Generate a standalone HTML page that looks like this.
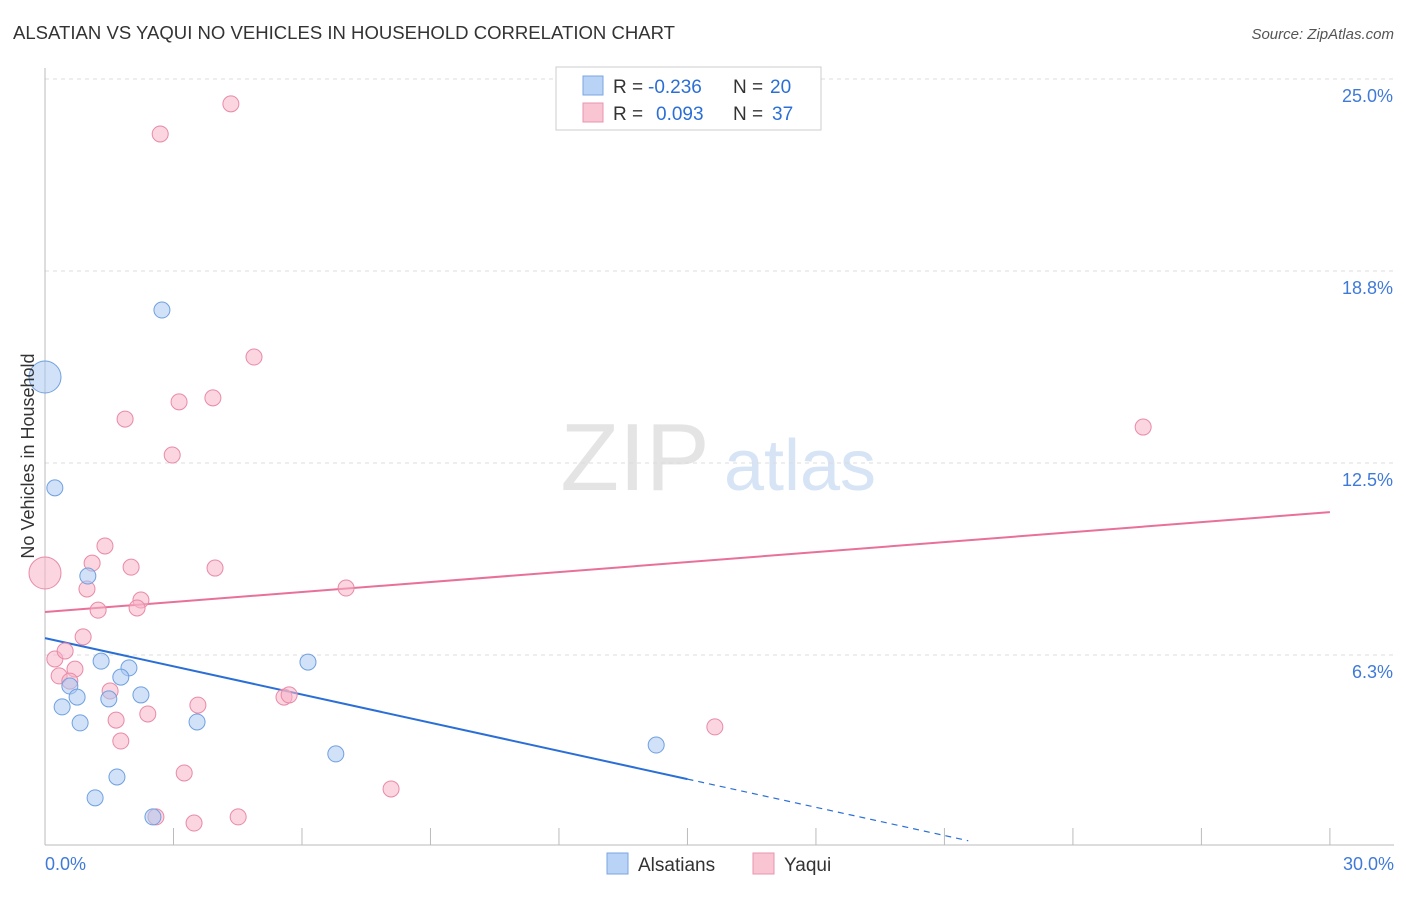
<!DOCTYPE html>
<html><head><meta charset="utf-8"><style>
body{margin:0;background:#fff;font-family:"Liberation Sans",sans-serif}
text{font-family:"Liberation Sans",sans-serif}
</style></head><body>
<svg id="chart" width="1406" height="892" xmlns="http://www.w3.org/2000/svg">
<text x="13" y="39" font-size="18" fill="#333" textLength="662" lengthAdjust="spacingAndGlyphs">ALSATIAN VS YAQUI NO VEHICLES IN HOUSEHOLD CORRELATION CHART</text>
<text x="1394" y="39" font-size="15" fill="#555" text-anchor="end" font-style="italic">Source: ZipAtlas.com</text>
<g><text x="635" y="490" font-size="96" fill="#e4e4e4" text-anchor="middle" font-family="Liberation Serif">ZIP</text><text x="800" y="490" font-size="72" fill="#d6e4f5" text-anchor="middle">atlas</text></g>
<g id="grid"></g><g id="axes"></g><g id="lines"></g><g id="pts"></g>
<text transform="translate(34,456) rotate(-90)" font-size="18" fill="#333" text-anchor="middle">No Vehicles in Household</text>
<g>
<rect x="556" y="67" width="265" height="63" fill="#fff" stroke="#ccc"/>
<rect x="583" y="76" width="20" height="19" fill="#b8d3f5" stroke="#7aa6e0"/>
<rect x="583" y="103" width="20" height="19" fill="#f9c5d3" stroke="#e895b0"/>
<text x="613" y="93" font-size="19" fill="#333">R =</text>
<text x="648" y="93" font-size="19" fill="#2b6fd6">-0.236</text>
<text x="733" y="93" font-size="19" fill="#333">N =</text>
<text x="770" y="93" font-size="19" fill="#2b6fd6">20</text>
<text x="613" y="120" font-size="19" fill="#333">R =</text>
<text x="656" y="120" font-size="19" fill="#2b6fd6">0.093</text>
<text x="733" y="120" font-size="19" fill="#333">N =</text>
<text x="772" y="120" font-size="19" fill="#2b6fd6">37</text>
</g>
<g>
<rect x="607" y="853" width="21" height="21" fill="#b8d3f5" stroke="#7aa6e0"/>
<text x="638" y="871" font-size="19" fill="#333">Alsatians</text>
<rect x="753" y="853" width="21" height="21" fill="#f9c5d3" stroke="#e895b0"/>
<text x="784" y="871" font-size="19" fill="#333">Yaqui</text>
</g>
</svg>
<script>
const alsX=[0,0.23,1.00,1.31,1.96,1.77,0.58,0.75,0.40,1.49,2.24,0.82,3.55,6.14,6.79,14.27,1.68,1.17,2.52,2.73];
const alsY=[15.30,11.69,8.82,6.05,5.83,5.53,5.24,4.88,4.56,4.82,4.95,4.04,4.07,6.02,3.03,3.32,2.28,1.60,0.98,17.48];
const yaqX=[4.34,2.69,4.88,3.92,3.13,1.87,2.97,25.64,0,1.40,1.10,2.01,3.97,0.98,2.24,1.24,2.15,7.03,0.89,0.23,0.47,0.70,0.33,0.58,1.52,5.58,5.70,3.57,1.66,2.40,1.77,15.64,3.25,8.08,2.59,4.51,3.48];
const yaqY=[24.19,23.21,15.95,14.62,14.49,13.93,12.76,13.67,8.92,9.80,9.24,9.11,9.08,8.40,8.04,7.71,7.78,8.43,6.84,6.12,6.38,5.79,5.57,5.40,5.08,4.88,4.95,4.62,4.13,4.33,3.45,3.91,2.41,1.89,0.98,0.98,0.78];
const yTicks=[6.3,12.5,18.8,25.0];
const xTickLabels=["0.0%","30.0%"];
const alsTrend=[6.80,2.21]; // value at x=0 and x=15
const yaqTrend=[7.65,10.90]; // value at x=0 and x=30
const NS="http://www.w3.org/2000/svg";
const sx=v=>45+v*42.83, sy=v=>847-v*30.72;
function mk(tag,attrs,parent){const e=document.createElementNS(NS,tag);for(const k in attrs)e.setAttribute(k,attrs[k]);document.getElementById(parent).appendChild(e);return e;}
yTicks.forEach(t=>{
 const yy=sy(t===6.3?6.25:t===18.8?18.75:t);
 const g=mk('line',{x1:45,x2:1394,y1:yy,y2:yy,stroke:'#ddd','stroke-dasharray':'4,4'},'grid');
 
 
 const l=mk('text',{x:1393,y:yy+23,'font-size':18,fill:'#3f7ad8','text-anchor':'end'},'grid');
 l.textContent=t.toFixed(1)+'%';
 
 
});
let a=mk('line',{x1:45,x2:45,y1:68,y2:845,stroke:'#bbb'},'axes');


a=mk('line',{x1:45,x2:1394,y1:845,y2:845,stroke:'#bbb'},'axes');


for(let i=0;i<=10;i++){const x=sx(i*3);
 const t=mk('line',{x1:x,x2:x,y1:828,y2:845,stroke:'#bbb'},'axes');
 
 }
[[0,'start',45],[1,'end',1394]].forEach(([i,an,x])=>{
 const t=mk('text',{x:x,y:870,'font-size':18,fill:'#3f7ad8','text-anchor':an},'axes');
 t.textContent=xTickLabels[i];
 
 });
const bSlope=(alsTrend[1]-alsTrend[0])/15;
let ln=mk('line',{x1:sx(0),y1:sy(alsTrend[0]),x2:sx(15),y2:sy(alsTrend[1]),stroke:'#2b6fd6','stroke-width':2},'lines');


const xEnd=-alsTrend[0]/bSlope*0.97;
ln=mk('line',{x1:sx(15),y1:sy(alsTrend[1]),x2:sx(xEnd),y2:sy(alsTrend[0]+bSlope*xEnd),stroke:'#2b6fd6','stroke-width':1.2,'stroke-dasharray':'6,5'},'lines');


ln=mk('line',{x1:sx(0),y1:sy(yaqTrend[0]),x2:sx(30),y2:sy(yaqTrend[1]),stroke:'#e8709a','stroke-width':2},'lines');


function pts(X,Y,fill,stroke,name){X.forEach((x,i)=>{
 const r=(x===0)?16:8;
 const c=mk('circle',{cx:sx(x),cy:sy(Y[i]),r:r,fill:fill,'fill-opacity':0.55,stroke:stroke,'stroke-width':1},'pts');
 
 });}
pts(yaqX,yaqY,'#f7b3c7','#e88aa8','yaqui-point');
pts(alsX,alsY,'#a9c9f2','#6fa0e0','alsatian-point');
</script>
</body></html>
